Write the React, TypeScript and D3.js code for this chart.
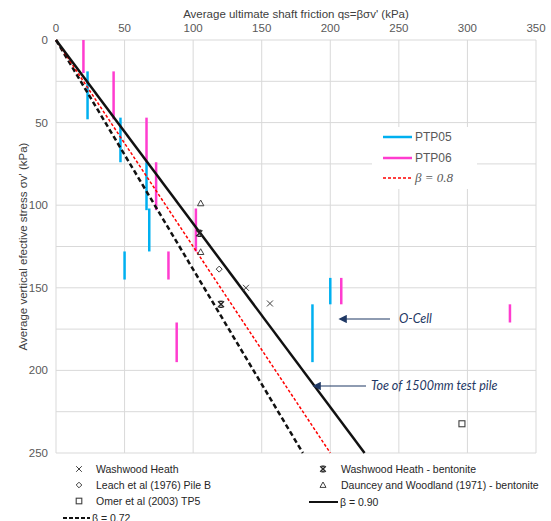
import React from "react";
import * as d3 from "d3";

// ---- data ----
const xTicks = [0, 50, 100, 150, 200, 250, 300, 350];
const yTicks = [0, 50, 100, 150, 200, 250];
const yGrid = [0, 25, 50, 75, 100, 125, 150, 175, 200, 225, 250];

// PTP05 ranges: qs, sigma top, sigma bottom
const ptp05Qs = [23, 47, 66, 68, 50, 200, 187];
const ptp05Top = [19, 47, 74, 102, 128, 144, 160];
const ptp05Bot = [48, 74, 103, 128, 145, 160, 195];

const ptp06Qs = [20, 42, 66, 73, 102, 82, 208, 331, 88];
const ptp06Top = [0, 19, 47, 74, 102, 128, 144, 160, 171];
const ptp06Bot = [20, 48, 74, 103, 128, 145, 160, 171, 195];

const washwoodQs = [138.5, 156];
const washwoodSig = [150, 159.5];
const bentoniteQs = [104.5, 120.3];
const bentoniteSig = [117, 160];
const leachQs = [119];
const leachSig = [138.7];
const daunceyQs = [105.5, 105.5];
const daunceySig = [98.8, 128.3];
const omerQs = [296];
const omerSig = [232.3];

const betaValues = [0.9, 0.8, 0.72];

const W = 551;
const H = 521;
const L = 56, R = 536, T = 40, B = 453;

const BLUE = "#00b0f0";
const MAG = "#ff3ccf";
const GRID = "#d9d9d9";
const TXT = "#595959";
const NAVY = "#1f3864";

export default function App() {
  const x = d3.scaleLinear().domain([0, 350]).range([L, R]);
  const y = d3.scaleLinear().domain([0, 250]).range([T, B]);
  const font = "'Liberation Sans', Arial, sans-serif";

  const betaLine = (b: number) => {
    const sEnd = Math.min(250, 350 / b);
    const line = d3.line<number>().x((s) => x(b * s)).y((s) => y(s));
    return line([0, sEnd]) || "";
  };

  const cross = (cx: number, cy: number, r: number, key: string, sw = 1) => (
    <g key={key} stroke="#404040" strokeWidth={sw}>
      <line x1={cx - r} y1={cy - r} x2={cx + r} y2={cy + r} />
      <line x1={cx - r} y1={cy + r} x2={cx + r} y2={cy - r} />
    </g>
  );
  const star = (cx: number, cy: number, r: number, key: string) => (
    <g key={key} stroke="#262626" strokeWidth={1.4}>
      <line x1={cx - r} y1={cy - r} x2={cx + r} y2={cy + r} />
      <line x1={cx - r} y1={cy + r} x2={cx + r} y2={cy - r} />
      <line x1={cx - r * 0.6} y1={cy - r} x2={cx + r * 0.6} y2={cy - r} />
      <line x1={cx - r * 0.6} y1={cy + r} x2={cx + r * 0.6} y2={cy + r} />
    </g>
  );
  const diamond = (cx: number, cy: number, r: number, key: string) => (
    <path key={key} d={`M${cx},${cy - r}L${cx + r},${cy}L${cx},${cy + r}L${cx - r},${cy}Z`} fill="none" stroke="#404040" strokeWidth={1} />
  );
  const tri = (cx: number, cy: number, r: number, key: string) => (
    <path key={key} d={`M${cx},${cy - r}L${cx + r},${cy + r * 0.8}L${cx - r},${cy + r * 0.8}Z`} fill="none" stroke="#404040" strokeWidth={1} />
  );
  const square = (cx: number, cy: number, r: number, key: string) => (
    <rect key={key} x={cx - r} y={cy - r} width={2 * r} height={2 * r} fill="none" stroke="#404040" strokeWidth={1.1} />
  );

  const lf = 10.5;

  return (
    <svg width={W} height={H} style={{ position: "absolute", left: 0, top: 0, background: "#fff" }} fontFamily={font}>
      <defs>
        <marker id="arr" viewBox="0 0 10 10" refX="1" refY="5" markerWidth="7" markerHeight="7" orient="auto-start-reverse">
          <path d="M0,0L10,5L0,10Z" fill={NAVY} />
        </marker>
      </defs>
      {/* grid */}
      {yGrid.map((v) => (
        <line key={"yg" + v} x1={L} x2={R} y1={y(v)} y2={y(v)} stroke={GRID} strokeWidth={1} />
      ))}
      {xTicks.map((v) => (
        <line key={"xg" + v} x1={x(v)} x2={x(v)} y1={T} y2={B} stroke={GRID} strokeWidth={1} />
      ))}
      {/* tick labels */}
      {xTicks.map((v) => (
        <text key={"xt" + v} x={x(v)} y={32} textAnchor="middle" fontSize={11.5} fill={TXT}>{v}</text>
      ))}
      {yTicks.map((v) => (
        <text key={"yt" + v} x={48} y={y(v) + 4} textAnchor="end" fontSize={11.5} fill={TXT}>{v}</text>
      ))}
      <text x={(L + R) / 2} y={18} textAnchor="middle" fontSize={11.5} fill="#404040">Average ultimate shaft friction qs=βσv' (kPa)</text>
      <text transform={`translate(27,${(T + B) / 2}) rotate(-90)`} textAnchor="middle" fontSize={11.5} fill="#404040">Average vertical efective stress σv' (kPa)</text>

      {/* bars */}
      {ptp05Qs.map((q, i) => (
        <line key={"b5" + i} x1={x(q)} x2={x(q)} y1={y(ptp05Top[i])} y2={y(ptp05Bot[i])} stroke={BLUE} strokeWidth={2.5} />
      ))}
      {ptp06Qs.map((q, i) => (
        <line key={"b6" + i} x1={x(q)} x2={x(q)} y1={y(ptp06Top[i])} y2={y(ptp06Bot[i])} stroke={MAG} strokeWidth={2.5} />
      ))}

      {/* beta lines */}
      <path d={betaLine(betaValues[2])} stroke="#111" strokeWidth={2.5} strokeDasharray="5,3" fill="none" />
      <path d={betaLine(betaValues[1])} stroke="#ff0000" strokeWidth={1.5} strokeDasharray="3,2" fill="none" />
      <path d={betaLine(betaValues[0])} stroke="#111" strokeWidth={2.5} fill="none" />

      {/* markers */}
      {washwoodQs.map((q, i) => cross(x(q), y(washwoodSig[i]), 3, "ww" + i))}
      {bentoniteQs.map((q, i) => star(x(q), y(bentoniteSig[i]), 3, "wb" + i))}
      {leachQs.map((q, i) => diamond(x(q), y(leachSig[i]), 3, "le" + i))}
      {daunceyQs.map((q, i) => tri(x(q), y(daunceySig[i]), 3.2, "da" + i))}
      {omerQs.map((q, i) => square(x(q), y(omerSig[i]), 3, "om" + i))}

      {/* inner legend */}
      <rect x={372} y={127} width={105} height={62} fill="#fff" />
      <line x1={383} x2={412} y1={137} y2={137} stroke={BLUE} strokeWidth={2.5} />
      <text x={415} y={141} fontSize={12} fill={TXT}>PTP05</text>
      <line x1={383} x2={412} y1={158} y2={158} stroke={MAG} strokeWidth={2.5} />
      <text x={415} y={162} fontSize={12} fill={TXT}>PTP06</text>
      <line x1={383} x2={412} y1={178} y2={178} stroke="#ff0000" strokeWidth={1.5} strokeDasharray="3,2" />
      <text x={415} y={182} fontSize={13} fill={TXT} fontStyle="italic" fontFamily="'Liberation Serif', serif">β = 0.8</text>

      {/* annotations */}
      <line x1={390} y1={319} x2={346} y2={319} stroke={NAVY} strokeWidth={1.2} markerEnd="url(#arr)" />
      <text x={399} y={323} fontSize={12.5} fill={NAVY} fontStyle="italic" fontFamily="Lato, 'Open Sans', sans-serif">O-Cell</text>
      <line x1={366} y1={386} x2={320} y2={386} stroke={NAVY} strokeWidth={1.2} markerEnd="url(#arr)" />
      <text x={371} y={390} fontSize={12.5} fill={NAVY} fontStyle="italic" fontFamily="Lato, 'Open Sans', sans-serif">Toe of 1500mm test pile</text>

      {/* bottom legend */}
      {cross(79, 469, 2.8, "lg1")}
      <text x={96} y={472.5} fontSize={lf} fill="#262626">Washwood Heath</text>
      {diamond(79, 485, 2.8, "lg2")}
      <text x={96} y={488.5} fontSize={lf} fill="#262626">Leach et al (1976) Pile B</text>
      {square(79, 501, 2.8, "lg3")}
      <text x={96} y={504.5} fontSize={lf} fill="#262626">Omer et al (2003) TP5</text>
      <line x1={63} x2={90} y1={518} y2={518} stroke="#111" strokeWidth={2} strokeDasharray="4,2" />
      <text x={92} y={521.5} fontSize={lf} fill="#262626">β = 0.72</text>

      {star(323, 469, 2.8, "lg4")}
      <text x={341} y={472.5} fontSize={lf} fill="#262626">Washwood Heath - bentonite</text>
      {tri(323, 485, 3, "lg5")}
      <text x={341} y={488.5} fontSize={lf} fill="#262626">Dauncey and Woodland (1971) - bentonite</text>
      <line x1={309} x2={338} y1={502} y2={502} stroke="#111" strokeWidth={2} />
      <text x={340} y={505.5} fontSize={lf} fill="#262626">β = 0.90</text>
    </svg>
  );
}
